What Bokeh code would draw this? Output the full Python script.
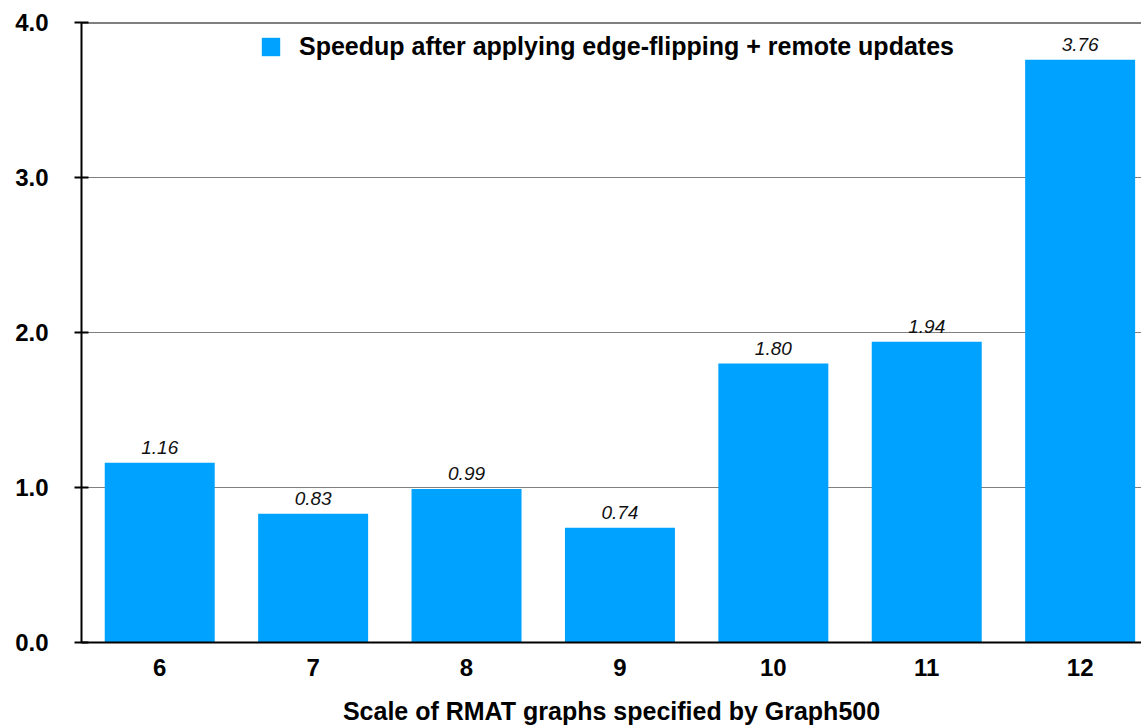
from bokeh.plotting import figure
from bokeh.models import ColumnDataSource, Range1d, FixedTicker, Span, Legend, LegendItem, LabelSet, CustomJSTickFormatter
from bokeh.core.properties import value
from bokeh.embed import file_html
from bokeh.resources import INLINE

scales = [6, 7, 8, 9, 10, 11, 12]
speedup = [1.16, 0.83, 0.99, 0.74, 1.80, 1.94, 3.76]
value_labels = ["1.16", "0.83", "0.99", "0.74", "1.80", "1.94", "3.76"]
y_ticks = [0.0, 1.0, 2.0, 3.0, 4.0]
series_name = "Speedup after applying edge-flipping + remote updates"
x_title = "Scale of RMAT graphs specified by Graph500"

BLUE = "#00A2FF"
FONT = "Liberation Sans"

src = ColumnDataSource(dict(x=scales, top=speedup, lab=value_labels))

p = figure(width=1141, height=727, output_backend="svg", toolbar_location=None,
           x_range=Range1d(5.49, 12.4), y_range=Range1d(0, 4.0),
           min_border_left=81, min_border_top=22, min_border_right=0, min_border_bottom=0)
p.outline_line_color = None
p.background_fill_color = "white"

r = p.vbar(x="x", top="top", width=0.717, source=src, fill_color=BLUE, line_color=None)

labels = LabelSet(x="x", y="top", text="lab", source=src, text_align="center",
                  text_baseline="alphabetic", y_offset=9, text_font=value(FONT),
                  text_font_size=value("19px"), text_font_style=value("italic"),
                  text_color=value("#111111"))
p.add_layout(labels)

# grid
p.xgrid.visible = False
p.ygrid.ticker = FixedTicker(ticks=[1.0, 2.0, 3.0])
p.ygrid.grid_line_color = "#808080"
p.ygrid.grid_line_width = 1
p.add_layout(Span(location=4.0, dimension="width", line_color="black", line_width=2))

# y axis
p.yaxis.ticker = FixedTicker(ticks=y_ticks)
p.yaxis.formatter = CustomJSTickFormatter(code="return tick.toFixed(1);")
p.yaxis.axis_line_color = "black"
p.yaxis.axis_line_width = 2
p.yaxis.major_tick_in = 7
p.yaxis.major_tick_out = 7
p.yaxis.major_tick_line_width = 2
p.yaxis.minor_tick_line_color = None
p.yaxis.major_label_text_font = FONT
p.yaxis.major_label_text_font_size = "24px"
p.yaxis.major_label_text_font_style = "bold"
p.yaxis.major_label_text_color = "black"
p.yaxis.major_label_standoff = 26

# x axis
p.xaxis.ticker = FixedTicker(ticks=scales)
p.xaxis.axis_line_color = "black"
p.xaxis.axis_line_width = 2
p.xaxis.major_tick_in = 0
p.xaxis.major_tick_out = 0
p.xaxis.minor_tick_line_color = None
p.xaxis.major_label_text_font = FONT
p.xaxis.major_label_text_font_size = "24px"
p.xaxis.major_label_text_font_style = "bold"
p.xaxis.major_label_text_color = "black"
p.xaxis.major_label_standoff = 16
p.xaxis.axis_label = x_title
p.xaxis.axis_label_text_font = FONT
p.xaxis.axis_label_text_font_size = "25px"
p.xaxis.axis_label_text_font_style = "bold"
p.xaxis.axis_label_text_color = "black"
p.xaxis.axis_label_standoff = 18

legend = Legend(items=[LegendItem(label=series_name, renderers=[r])],
                location=(178, 581), glyph_width=23, glyph_height=23,
                label_standoff=17, padding=0, margin=0, border_line_color=None,
                background_fill_alpha=0, label_text_font=FONT,
                label_text_font_size="25px", label_text_font_style="bold",
                label_text_color="black", label_height=23)
p.add_layout(legend)

open("out.html", "w").write(file_html(p, INLINE))
